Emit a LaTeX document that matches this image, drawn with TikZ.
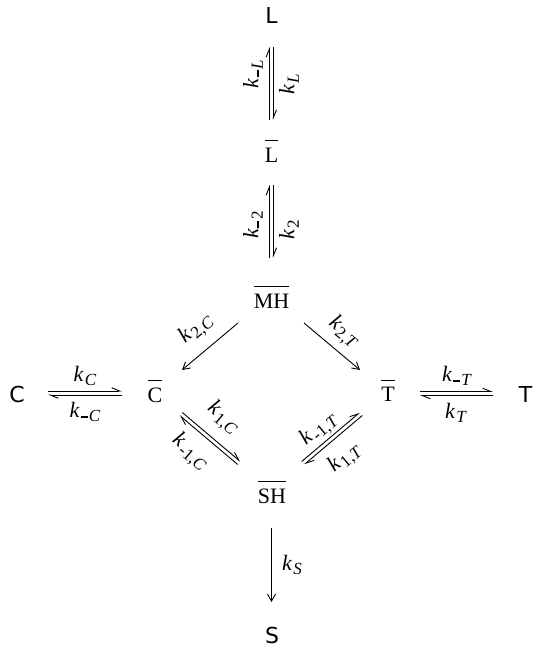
\documentclass[tikz,border=0pt]{standalone}
\usepackage{fontspec}
\setmainfont{Liberation Serif}
\newfontfamily\sansfam{DejaVu Sans}
\usetikzlibrary{arrows.meta}
\newcommand\ob[1]{\vbox{\hrule height 0.9pt\kern 6.3pt\hbox{#1}}}
\newcommand\kk[1]{\textit{k}\kern1.2pt\raisebox{-4.5pt}{\fontsize{17}{17}\selectfont #1}}
\newcommand\mn{\rule[4pt]{7pt}{1.6pt}\kern1pt}
\begin{document}
\begin{tikzpicture}[x=1pt,y=-1pt,
  every node/.style={inner sep=0pt, font=\fontsize{22}{26}\selectfont},
  spec/.style={anchor=base},
  sp/.style={anchor=base, font=\fontsize{22}{26}\selectfont\sansfam},
  harp/.style={line width=0.9pt, -{Straight Barb[harpoon,length=8pt,width=6.5pt]}},
  one/.style={line width=0.9pt, -{Straight Barb[length=7pt,width=8pt]}},
  ]
\useasboundingbox (0,0) rectangle (533,651);
% species
\node[sp]   (L)  at (271.5,23)  {L};
\node[spec] (Lb) at (271.5,162) {\ob{L}};
\node[spec] (MH) at (271.5,308) {\ob{MH}};
\node[sp]   (C)  at (17,402)    {C};
\node[spec] (Cb) at (155,402)   {\ob{C}};
\node[spec] (Tb) at (388,401.5) {\ob{T}};
\node[sp]   (T)  at (525.5,402) {T};
\node[spec] (SH) at (272,503)   {\ob{SH}};
\node[sp]   (S)  at (272,643)   {S};
% arrow end points
\coordinate (a1) at (269.3,120); \coordinate (a2) at (269.3,47);
\coordinate (a3) at (273.3,47);  \coordinate (a4) at (273.3,120);
\coordinate (b1) at (269.3,258); \coordinate (b2) at (269.3,185);
\coordinate (b3) at (273.3,185); \coordinate (b4) at (273.3,258);
\coordinate (c1) at (48,391);  \coordinate (c2) at (122,391);
\coordinate (c3) at (122,395); \coordinate (c4) at (48,395);
\coordinate (t1) at (420,391.5); \coordinate (t2) at (493,391.5);
\coordinate (t3) at (493,395.5); \coordinate (t4) at (420,395.5);
\coordinate (d1) at (182.3,412.5); \coordinate (d2) at (240.3,461.5);
\coordinate (d3) at (237.7,464.5); \coordinate (d4) at (179.7,415.5);
\coordinate (e1) at (301.7,461.5); \coordinate (e2) at (359.7,412.5);
\coordinate (e3) at (362.3,415.5); \coordinate (e4) at (304.3,464.5);
\coordinate (m1) at (238,323); \coordinate (m2) at (182,370);
\coordinate (m3) at (304,323); \coordinate (m4) at (360,370);
\coordinate (s1) at (271.5,528); \coordinate (s2) at (271.5,602);
% arrows
\draw[harp] (a1) -- (a2); \draw[harp] (a3) -- (a4);
\draw[harp] (b1) -- (b2); \draw[harp] (b3) -- (b4);
\draw[harp] (c1) -- (c2); \draw[harp] (c3) -- (c4);
\draw[harp] (t1) -- (t2); \draw[harp] (t3) -- (t4);
\draw[harp] (d1) -- (d2); \draw[harp] (d3) -- (d4);
\draw[harp] (e1) -- (e2); \draw[harp] (e3) -- (e4);
\draw[one] (m1) -- (m2); \draw[one] (m3) -- (m4);
\draw[one] (s1) -- (s2);
% rate constants
\node[rotate=90]  (kmL)  at (253,74)  {\kk{\mn\textit{L}}};
\node[rotate=90]  (kL)   at (289,84)  {\kk{\textit{L}}};
\node[rotate=90]  (km2)  at (253,225) {\kk{\mn2}};
\node[rotate=90]  (k2)   at (289,230) {\kk{2}};
\node[rotate=40]  (k2C)  at (196,329) {\kk{2,\textit{C}}};
\node[rotate=-40] (k2T)  at (344,332) {\kk{2,\textit{T}}};
\node             (kC)   at (85,376)  {\kk{\textit{C}}};
\node             (kmC)  at (85,412)  {\kk{\mn\textit{C}}};
\node             (kmT)  at (457,376) {\kk{\mn\textit{T}}};
\node             (kT)   at (456,413) {\kk{\textit{T}}};
\node[rotate=-40] (k1C)  at (223,418) {\kk{1,\textit{C}}};
\node[rotate=-40] (km1C) at (190,452) {\kk{-1,\textit{C}}};
\node[rotate=40]  (km1T) at (319,429) {\kk{-1,\textit{T}}};
\node[rotate=40]  (k1T)  at (345,458) {\kk{1,\textit{T}}};
\node             (kS)   at (292,565) {\kk{\textit{S}}};
\end{tikzpicture}
\end{document}
